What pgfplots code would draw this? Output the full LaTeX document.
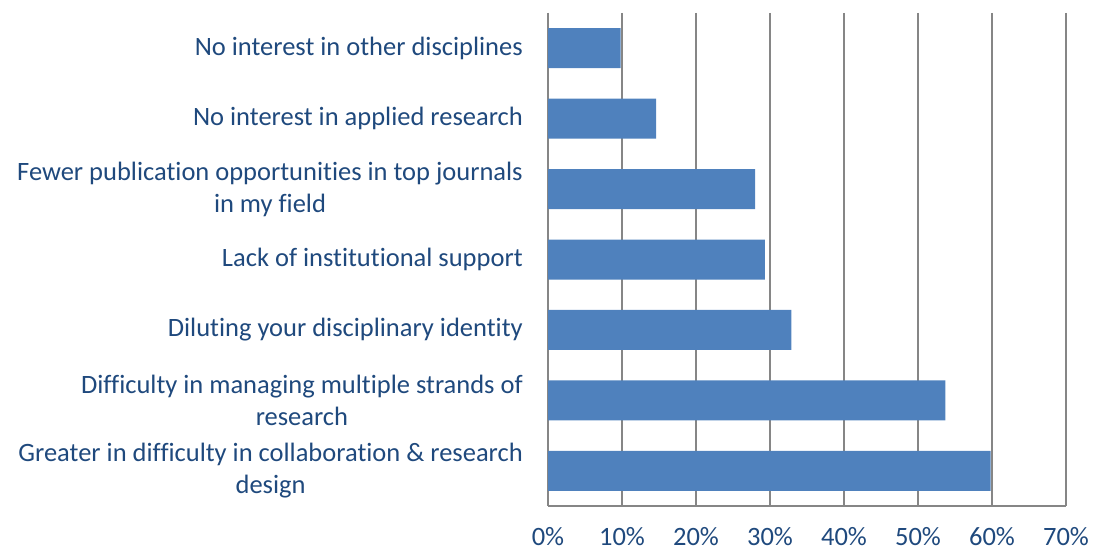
\documentclass[border=0pt]{standalone}
\usepackage{pgfplots}
\pgfplotsset{compat=1.18}
\usepackage{fontspec}
\setmainfont{Carlito}[Ligatures={NoCommon,NoRare,NoDiscretionary}]
\definecolor{txt}{RGB}{31,73,125}
\definecolor{bar}{RGB}{79,129,189}
\definecolor{grd}{RGB}{134,134,134}
\begin{document}
\begin{tikzpicture}[x=1pt,y=1pt]
\fontsize{26.5}{32}\selectfont
\begin{axis}[
  at={(548pt,45pt)}, anchor=south west,
  scale only axis, width=518pt, height=493pt,
  xbar, bar width=40pt,
  xmin=0, xmax=70, ymin=0.5, ymax=7.5,
  y dir=reverse,
  axis lines*=left,
  axis line style={grd, line width=1.6pt},
  xmajorgrids, grid style={grd, line width=1.6pt},
  major tick length=0pt,
  xtick={0,10,20,30,40,50,60,70},
  xticklabels={0\%,10\%,20\%,30\%,40\%,50\%,60\%,70\%},
  ytick={1,2,3,4,5,6,7},
  yticklabels={{No interest in other disciplines},{No interest in applied research},{Fewer publication opportunities in top journals\\in my field},{Lack of institutional support},{Diluting your disciplinary identity},{Difficulty in managing multiple strands of\\research},{Greater in difficulty in collaboration \& research\\design}},
  tick label style={font=\fontsize{26.5}{32}\selectfont, text=txt, inner sep=0pt},
  yticklabel style={align=center, anchor=east, xshift=-25pt},
  xticklabel style={anchor=north, yshift=-21pt},
  /pgf/number format/assume math mode=true,
]
\addplot[fill=bar, draw=none] coordinates {
  (9.8,1) (14.6,2) (28.0,3) (29.3,4) (32.9,5) (53.7,6) (59.8,7)
};
\end{axis}
\pgfresetboundingbox
\path[use as bounding box] (0,0) rectangle (1094,551);
\end{tikzpicture}
\end{document}
